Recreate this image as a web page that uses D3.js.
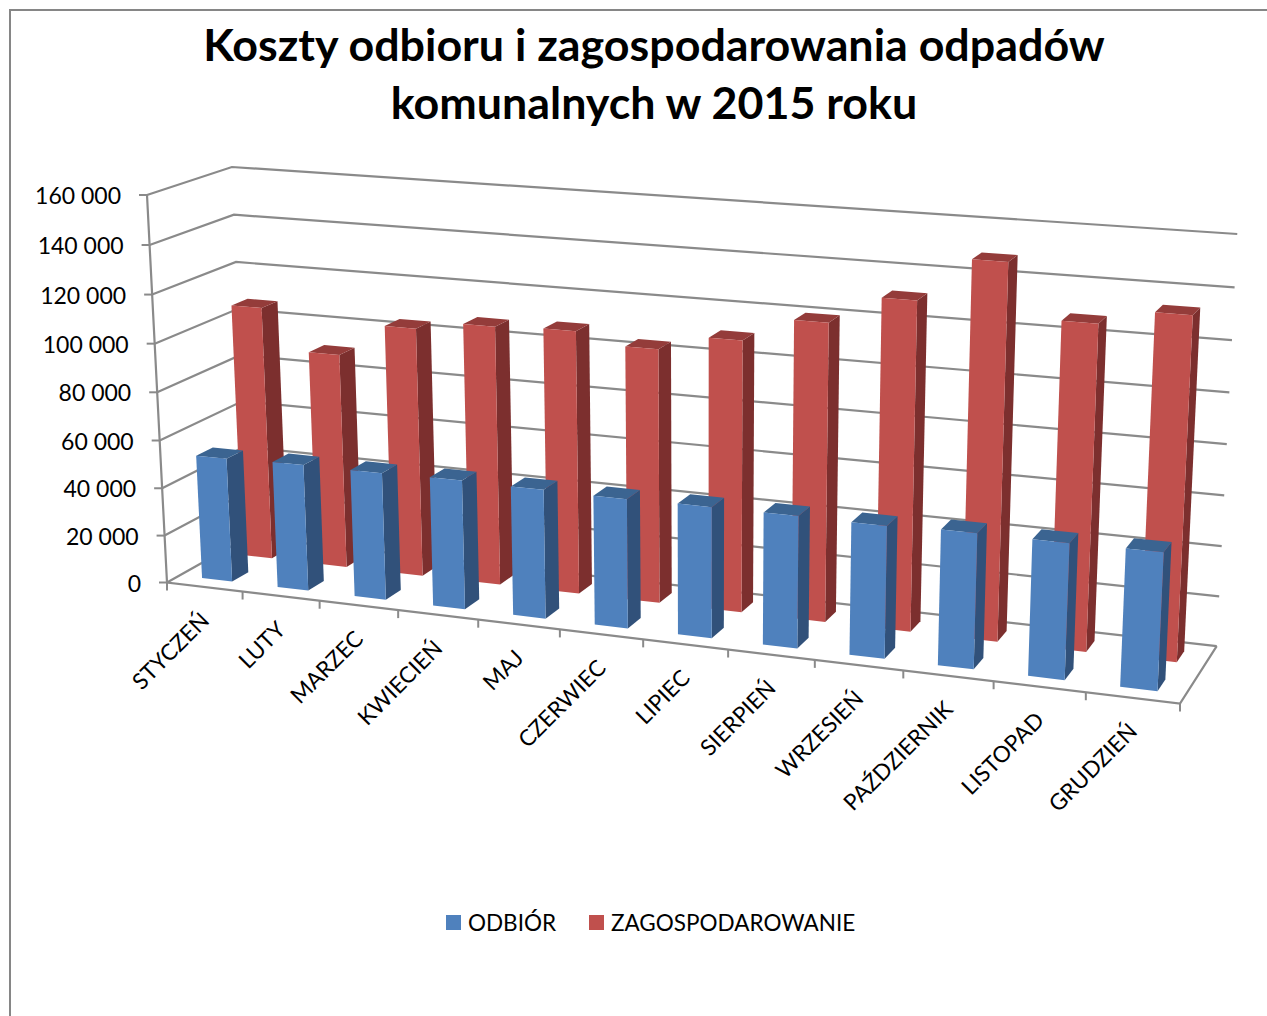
<!DOCTYPE html>
<html>
<head>
<meta charset="utf-8">
<script src="https://cdnjs.cloudflare.com/ajax/libs/d3/7.8.5/d3.min.js"></script>
<style>
  html, body { margin: 0; padding: 0; background: #fff; }
  svg { display: block; font-family: Lato, "Open Sans", sans-serif; }
</style>
</head>
<body>
<script>
var titleLines = ["Koszty odbioru i zagospodarowania odpadów", "komunalnych w 2015 roku"];
var months = ["STYCZEŃ", "LUTY", "MARZEC", "KWIECIEŃ", "MAJ", "CZERWIEC", "LIPIEC", "SIERPIEŃ", "WRZESIEŃ", "PAŹDZIERNIK", "LISTOPAD", "GRUDZIEŃ"];
var seriesNames = ["ODBIÓR", "ZAGOSPODAROWANIE"];
var odbior = [52000, 52700, 52700, 53100, 52700, 52400, 52700, 52700, 52400, 53200, 53000, 53200];
var zagosp = [107200, 90300, 104000, 107500, 108400, 104000, 110300, 120000, 131300, 148500, 127800, 133700];
var yTicks = [0, 20000, 40000, 60000, 80000, 100000, 120000, 140000, 160000];
var yTickLabels = ["0", "20 000", "40 000", "60 000", "80 000", "100 000", "120 000", "140 000", "160 000"];

var width = 1267, height = 1016;

var svg = d3.select("body").append("svg")
  .attr("width", width)
  .attr("height", height);

// chart frame, only top and left are in the shot
svg.append("path")
  .attr("d", "M10,1016V10H1267")
  .attr("fill", "none")
  .attr("stroke", "#868686")
  .attr("stroke-width", 2);

// scales in box units 0..1
var x = d3.scaleBand().domain(months).range([0, 1]).paddingInner(0.6).paddingOuter(0.3);
var xOuter = d3.scaleBand().domain(months).range([0, 1]);
var y = d3.scaleLinear().domain([0, 160000]).range([0, 1]);
var z = d3.scaleBand().domain(seriesNames).range([0, 1]).paddingInner(0.6).paddingOuter(0.3);

// projective map of the 3d box, set from its corners
var O = [167, 582.5], A = [1180, 703.5], B = [147, 195], C = [248, 537];
var ka = 0.887, kb = 0.964, kc = 1.05;

function project(u, v, w) {
  var d = 1 + u * (ka - 1) + v * (kb - 1) + w * (kc - 1);
  return [0, 1].map(function (i) {
    return (O[i] + u * (ka * A[i] - O[i]) + v * (kb * B[i] - O[i]) + w * (kc * C[i] - O[i])) / d;
  });
}

var line = d3.line();
var gridColor = "#8a8a8a";

// gridlines on left wall and back wall
var grid = svg.append("g");
yTicks.forEach(function (t) {
  grid.append("path")
    .attr("d", line([project(0, y(t), 0), project(0, y(t), 1), project(1, y(t), 1)]))
    .attr("fill", "none")
    .attr("stroke", gridColor)
    .attr("stroke-width", 2.2);
});

// floor edges and axis lines
grid.append("path")
  .attr("d", line([project(0, 1, 0), project(0, 0, 0), project(1, 0, 0), project(1, 0, 1)]))
  .attr("fill", "none")
  .attr("stroke", gridColor)
  .attr("stroke-width", 2.2);

// y ticks and labels
yTicks.forEach(function (t, i) {
  var p = project(0, y(t), 0);
  grid.append("path")
    .attr("d", line([[p[0] - 8, p[1]], p]))
    .attr("stroke", gridColor)
    .attr("stroke-width", 2);
  svg.append("text")
    .attr("x", p[0] - 26)
    .attr("y", p[1] + 1)
    .attr("dy", "0.35em")
    .attr("text-anchor", "end")
    .attr("font-size", 23)
    .attr("fill", "#000")
    .text(yTickLabels[i]);
});

// x ticks and labels
var xEdges = months.map(function (m) { return xOuter(m); }).concat([1]);
xEdges.forEach(function (u) {
  var p = project(u, 0, 0);
  grid.append("path")
    .attr("d", line([p, [p[0], p[1] + 8]]))
    .attr("stroke", gridColor)
    .attr("stroke-width", 2);
});
months.forEach(function (m) {
  var p = project(xOuter(m) + xOuter.bandwidth() / 2, 0, 0);
  svg.append("text")
    .attr("transform", "translate(" + (p[0] + 6) + "," + (p[1] + 35) + ") rotate(-45)")
    .attr("text-anchor", "end")
    .attr("font-size", 22.5)
    .attr("fill", "#000")
    .text(m);
});

// bars, back series first
var colors = {
  "ODBIÓR": { front: "#4f81bd", side: "#31517a", top: "#3b6491" },
  "ZAGOSPODAROWANIE": { front: "#c0504d", side: "#7c2f2e", top: "#943c3a" }
};

function drawBars(name, values) {
  var g = svg.append("g");
  var c = colors[name];
  var w0 = z(name), w1 = w0 + z.bandwidth();
  months.forEach(function (m, i) {
    var u0 = x(m), u1 = u0 + x.bandwidth(), v = y(values[i]);
    g.append("path")
      .attr("d", line([project(u1, 0, w0), project(u1, 0, w1), project(u1, v, w1), project(u1, v, w0)]) + "Z")
      .attr("fill", c.side);
    g.append("path")
      .attr("d", line([project(u0, v, w0), project(u1, v, w0), project(u1, v, w1), project(u0, v, w1)]) + "Z")
      .attr("fill", c.top);
    g.append("path")
      .attr("d", line([project(u0, 0, w0), project(u1, 0, w0), project(u1, v, w0), project(u0, v, w0)]) + "Z")
      .attr("fill", c.front);
  });
}
drawBars(seriesNames[1], zagosp);
drawBars(seriesNames[0], odbior);

// title
svg.selectAll(".title")
  .data(titleLines)
  .enter()
  .append("text")
  .attr("class", "title")
  .attr("x", 654)
  .attr("y", function (d, i) { return 61 + i * 58; })
  .attr("text-anchor", "middle")
  .attr("font-size", 44.8)
  .attr("font-weight", 700)
  .attr("fill", "#000")
  .text(function (d) { return d; });

// legend
var legendX = [446, 589];
seriesNames.forEach(function (s, i) {
  svg.append("rect")
    .attr("x", legendX[i])
    .attr("y", 915)
    .attr("width", 15)
    .attr("height", 15)
    .attr("fill", colors[s].front);
  svg.append("text")
    .attr("x", legendX[i] + 22)
    .attr("y", 931)
    .attr("font-size", 22.5)
    .attr("fill", "#000")
    .text(s);
});
</script>
</body>
</html>
